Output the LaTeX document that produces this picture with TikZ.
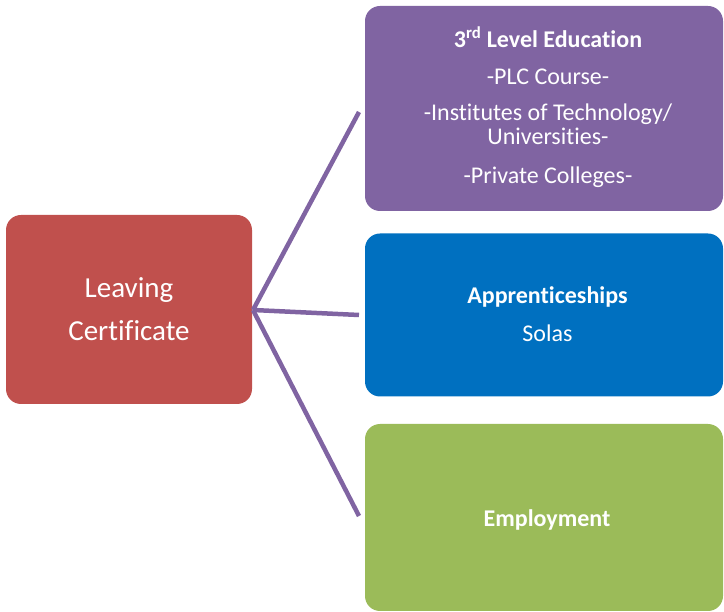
\documentclass[tikz,border=0pt]{standalone}
\usepackage{fontspec}
\setmainfont[RawFeature={-liga;-clig;-calt;-dlig}]{Carlito}
\definecolor{lcred}{HTML}{C0504D}
\definecolor{edupurple}{HTML}{8064A2}
\definecolor{appblue}{HTML}{0070C0}
\definecolor{empgreen}{HTML}{9BBB59}
\tikzset{
  boxnode/.style={rectangle, rounded corners=15pt, inner sep=0pt, draw=none},
  bigtext/.style={anchor=base, text=white, inner sep=0pt, font=\fontsize{29}{35}\selectfont},
  smalltext/.style={anchor=base, text=white, inner sep=0pt, font=\fontsize{24}{29}\selectfont},
  boldtext/.style={smalltext, font=\fontsize{24}{29}\selectfont\bfseries},
  link/.style={draw=edupurple, line width=4.5pt}
}
\begin{document}
\begin{tikzpicture}[x=1pt,y=-1pt]
\useasboundingbox (0,0) rectangle (724,612);
% boxes
\node[boxnode, fill=lcred, minimum width=246pt, minimum height=189pt] (lc) at (129,309.5) {};
\node[boxnode, fill=edupurple, minimum width=358pt, minimum height=205pt] (edu) at (544,108.5) {};
\node[boxnode, fill=appblue, minimum width=358pt, minimum height=163pt] (app) at (544,315) {};
\node[boxnode, fill=empgreen, minimum width=358pt, minimum height=187pt] (emp) at (544,517.5) {};
% connector ends
\coordinate (hub) at (253,310);
\coordinate (eduend) at (359,112);
\coordinate (append) at (359,315);
\coordinate (empend) at (359,516);
\draw[link] (hub) -- (eduend);
\draw[link] (hub) -- (append);
\draw[link] (hub) -- (empend);
% texts
\node[bigtext] (lc1) at (129,298) {Leaving};
\node[bigtext] (lc2) at (129,341) {Cert\kern0pt if\kern0pt icate};
\node[boldtext] (e1) at (548,48) {3\textsuperscript{rd} Level Education};
\node[smalltext] (e2) at (548,85) {-PLC Course-};
\node[smalltext] (e3) at (548,121) {-Inst\kern0pt itutes of Technology/};
\node[smalltext] (e4) at (548,145) {Universit\kern0pt ies-};
\node[smalltext] (e5) at (548,184) {-Private Colleges-};
\node[boldtext] (a1) at (547.5,304) {Apprent\kern0pt iceships};
\node[smalltext] (a2) at (547.5,342) {Solas};
\node[boldtext] (m1) at (547,527) {Employment};
\end{tikzpicture}
\end{document}
